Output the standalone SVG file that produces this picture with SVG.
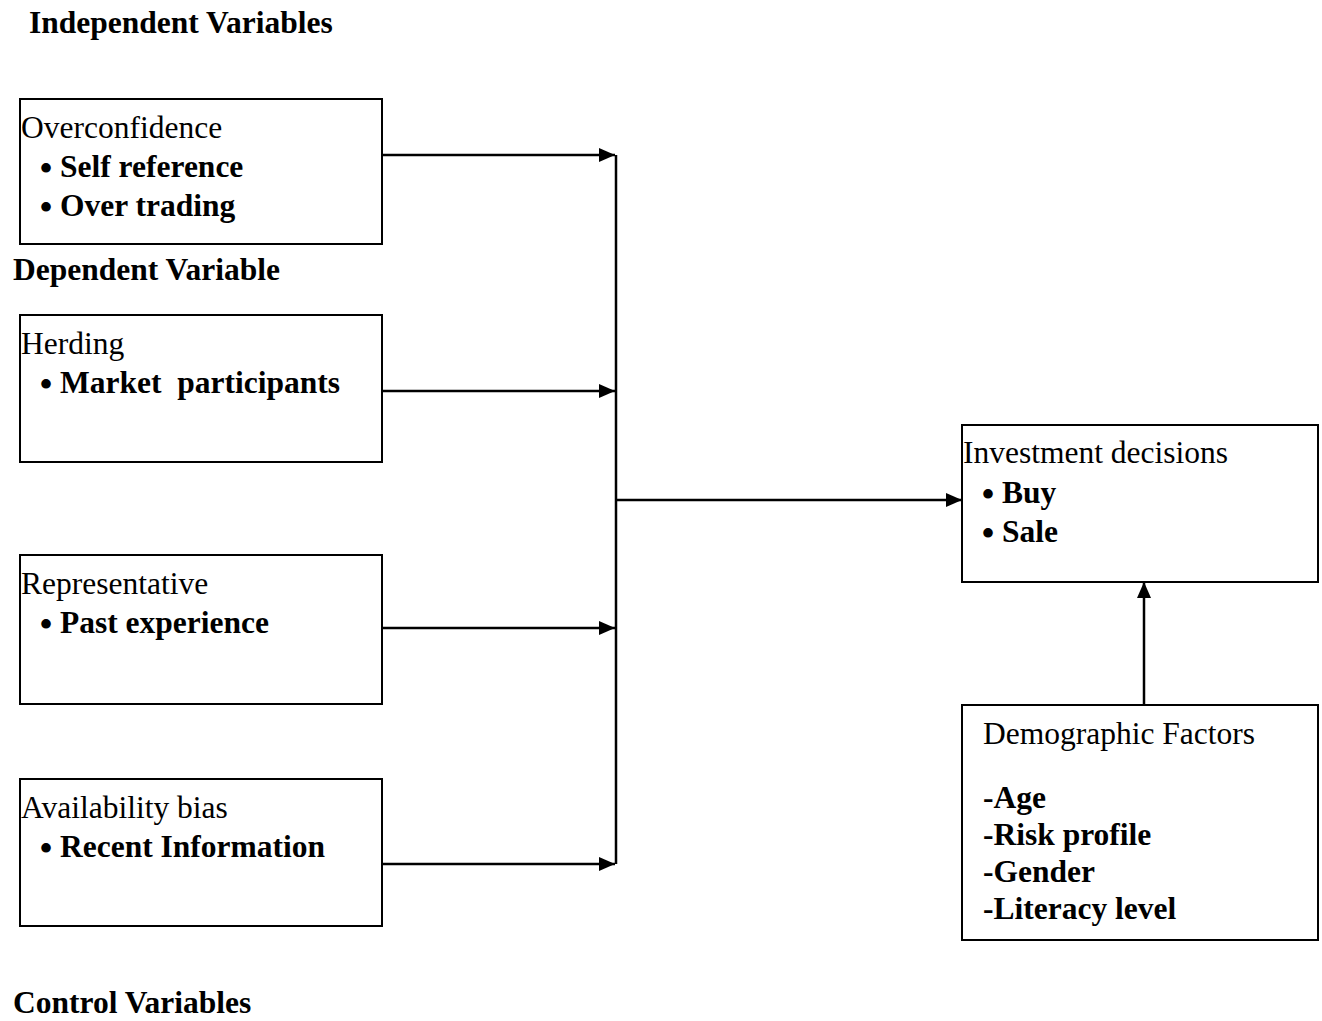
<svg xmlns="http://www.w3.org/2000/svg" width="1322" height="1021" viewBox="0 0 1322 1021">
<style>
text{font-family:"Liberation Serif","Times New Roman",serif;font-size:31.5px;fill:#000;white-space:pre}
.b{font-weight:bold}
.bu{font-size:40px}
.box{fill:#fff;stroke:#000;stroke-width:2}
.ln{stroke:#000;stroke-width:2.5;fill:none}
</style>
<defs>
<marker id="ah" viewBox="0 0 16 14" refX="16" refY="7" markerWidth="16" markerHeight="14" markerUnits="userSpaceOnUse" orient="auto"><path d="M0,0L16,7L0,14z" fill="#000"/></marker>
</defs>
<rect width="1322" height="1021" fill="#fff"/>
<text class="b" x="29" y="33">Independent Variables</text>
<text class="b" x="13" y="280">Dependent Variable</text>
<text class="b" x="13" y="1013">Control Variables</text>
<g id="overconfidence">
<rect class="box" x="20" y="99" width="362" height="145"/>
<text x="21" y="138">Overconfidence</text>
<text x="39" y="177"><tspan class="bu" dy="5">•</tspan><tspan class="b" x="60" dy="-5">Self reference</tspan></text>
<text x="39" y="216"><tspan class="bu" dy="5">•</tspan><tspan class="b" x="60" dy="-5">Over trading</tspan></text>
</g>
<g id="herding">
<rect class="box" x="20" y="315" width="362" height="147"/>
<text x="21" y="354">Herding</text>
<text x="39" y="393"><tspan class="bu" dy="5">•</tspan><tspan class="b" x="60" dy="-5">Market  participants</tspan></text>
</g>
<g id="representative">
<rect class="box" x="20" y="555" width="362" height="149"/>
<text x="21" y="594">Representative</text>
<text x="39" y="633"><tspan class="bu" dy="5">•</tspan><tspan class="b" x="60" dy="-5">Past experience</tspan></text>
</g>
<g id="availability">
<rect class="box" x="20" y="779" width="362" height="147"/>
<text x="21" y="818">Availability bias</text>
<text x="39" y="857"><tspan class="bu" dy="5">•</tspan><tspan class="b" x="60" dy="-5">Recent Information</tspan></text>
</g>
<g id="investment">
<rect class="box" x="962" y="425" width="356" height="157"/>
<text x="963" y="463">Investment decisions</text>
<text x="981" y="503"><tspan class="bu" dy="5">•</tspan><tspan class="b" x="1002" dy="-5">Buy</tspan></text>
<text x="981" y="542"><tspan class="bu" dy="5">•</tspan><tspan class="b" x="1002" dy="-5">Sale</tspan></text>
</g>
<g id="demographic">
<rect class="box" x="962" y="705" width="356" height="235"/>
<text x="983" y="744">Demographic Factors</text>
<text class="b" x="983" y="808">-Age</text>
<text class="b" x="983" y="845">-Risk profile</text>
<text class="b" x="983" y="882">-Gender</text>
<text class="b" x="983" y="919">-Literacy level</text>
</g>
<g id="connectors">
<line class="ln" x1="616" y1="155" x2="616" y2="864"/>
<line class="ln" x1="383" y1="155" x2="615" y2="155" marker-end="url(#ah)"/>
<line class="ln" x1="383" y1="391" x2="615" y2="391" marker-end="url(#ah)"/>
<line class="ln" x1="383" y1="628" x2="615" y2="628" marker-end="url(#ah)"/>
<line class="ln" x1="383" y1="864" x2="615" y2="864" marker-end="url(#ah)"/>
<line class="ln" x1="616" y1="500" x2="962" y2="500" marker-end="url(#ah)"/>
<line class="ln" x1="1144" y1="704" x2="1144" y2="582" marker-end="url(#ah)"/>
</g>
</svg>
